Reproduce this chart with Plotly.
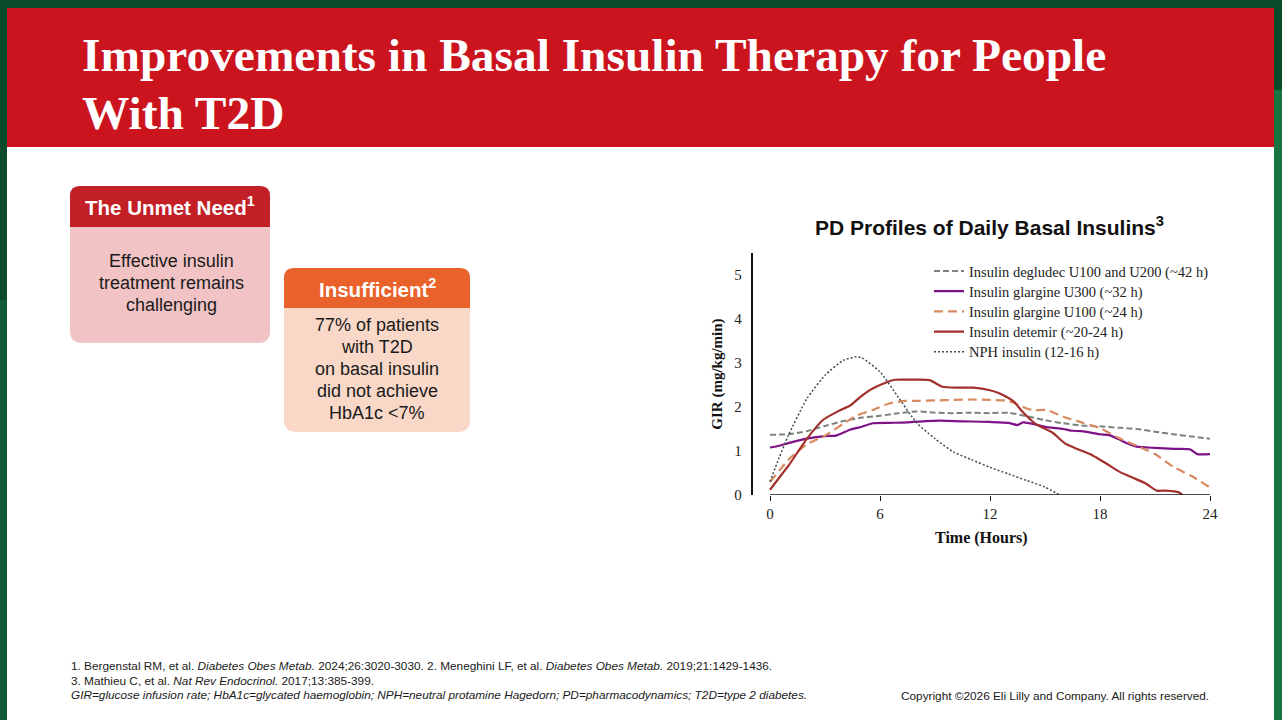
import plotly.graph_objects as go

W, H = 1282, 720

# ---------------- data ----------------
deg_t = [0, 1, 2, 3, 4, 5, 6, 7, 8, 9, 10, 11, 12, 13, 14, 15, 16, 17, 18, 19, 20, 21, 22, 23, 24]
deg_v = [1.37, 1.38, 1.45, 1.57, 1.68, 1.76, 1.80, 1.86, 1.90, 1.87, 1.86, 1.87, 1.86, 1.87, 1.79,
         1.70, 1.63, 1.58, 1.56, 1.53, 1.50, 1.44, 1.38, 1.33, 1.28]

u300_t = [0, 0.5, 1, 2, 3, 3.6, 4.4, 5, 5.6, 6.5, 7.5, 8.5, 9.3, 10, 11, 12, 13, 13.5, 13.8, 14.5,
          15, 16, 16.5, 17, 18, 18.5, 19, 19.5, 20, 21, 22, 22.9, 23.3, 24]
u300_v = [1.08, 1.12, 1.18, 1.28, 1.34, 1.35, 1.49, 1.55, 1.63, 1.64, 1.65, 1.68, 1.69, 1.68, 1.67,
          1.66, 1.64, 1.59, 1.65, 1.60, 1.55, 1.50, 1.46, 1.45, 1.38, 1.36, 1.27, 1.17, 1.10, 1.07,
          1.05, 1.04, 0.93, 0.93]

u100_t = [0, 0.5, 1, 2, 3, 4, 4.7, 5.6, 6.5, 7.4, 8, 9, 10, 11, 12, 13, 13.8, 14.3, 15.1, 16, 17,
          18, 19, 20, 21, 22, 23, 24]
u100_v = [0.30, 0.55, 0.80, 1.15, 1.35, 1.62, 1.80, 1.93, 2.08, 2.14, 2.14, 2.15, 2.16, 2.17, 2.16,
          2.14, 2.00, 1.93, 1.93, 1.78, 1.65, 1.52, 1.30, 1.12, 0.93, 0.64, 0.43, 0.17]

det_t = [0, 0.7, 1, 2, 2.9, 3.8, 4.4, 4.9, 5.6, 6.4, 6.8, 7.8, 8.7, 9.4, 10.2, 11.1, 12, 12.5, 13.3,
         13.8, 14.5, 15.4, 16.1, 16.8, 17.6, 18.4, 19.1, 19.8, 20.5, 21.1, 21.6, 22.3, 22.5]
det_v = [0.12, 0.50, 0.66, 1.27, 1.71, 1.92, 2.04, 2.22, 2.42, 2.57, 2.62, 2.62, 2.61, 2.46, 2.44,
         2.44, 2.38, 2.31, 2.12, 1.88, 1.61, 1.42, 1.17, 1.04, 0.90, 0.70, 0.52, 0.39, 0.26, 0.10,
         0.10, 0.06, 0.0]

nph_t = [0, 0.5, 1, 2, 3, 4, 4.7, 5, 6, 7, 8, 9, 10, 11, 12, 13, 14, 15, 15.8]
nph_v = [0.30, 0.85, 1.35, 2.18, 2.72, 3.06, 3.14, 3.12, 2.80, 2.22, 1.64, 1.28, 0.98, 0.80, 0.63,
         0.48, 0.33, 0.18, 0.0]

series_names = ["Insulin degludec U100 and U200 (~42 h)",
                "Insulin glargine U300 (~32 h)",
                "Insulin glargine U100 (~24 h)",
                "Insulin detemir (~20-24 h)",
                "NPH insulin (12-16 h)"]

x_ticks = [0, 6, 12, 18, 24]
y_ticks = [0, 1, 2, 3, 4, 5]

# ---------------- helpers ----------------
def px(x):
    return x / W

def py(y):
    return 1 - y / H

def rrect(x0, y0, x1, y1, rt, rb):
    """rounded rectangle path in paper coords; rt = top radius, rb = bottom radius (pixels)"""
    pts = [
        ("M", [(x0 + rt, y0)]),
        ("L", [(x1 - rt, y0)]),
        ("Q", [(x1, y0), (x1, y0 + rt)]),
        ("L", [(x1, y1 - rb)]),
        ("Q", [(x1, y1), (x1 - rb, y1)]),
        ("L", [(x0 + rb, y1)]),
        ("Q", [(x0, y1), (x0, y1 - rb)]),
        ("L", [(x0, y0 + rt)]),
        ("Q", [(x0, y0), (x0 + rt, y0)]),
    ]
    s = ""
    for cmd, ps in pts:
        s += cmd + " " + " ".join(f"{px(a):.6f},{py(b):.6f}" for a, b in ps) + " "
    return s + "Z"

SERIF = "Liberation Serif"
SANS = "Liberation Sans"

fig = go.Figure()

styles = [
    dict(color="#7b8478", width=2, dash="6px,3px"),
    dict(color="#7e1287", width=2.2, dash="solid"),
    dict(color="#d88a60", width=2.2, dash="9px,5px"),
    dict(color="#a3302c", width=2.2, dash="solid"),
    dict(color="#3f4b57", width=1.5, dash="2px,2px"),
]
data = [(deg_t, deg_v), (u300_t, u300_v), (u100_t, u100_v), (det_t, det_v), (nph_t, nph_v)]
legend_ids = ["legend", "legend2", "legend3", "legend4", "legend5"]

for (t, v), name, st, lg in zip(data, series_names, styles, legend_ids):
    fig.add_trace(go.Scatter(
        x=t, y=v, mode="lines", name=name, legend=lg,
        line=dict(color=st["color"], width=st["width"], dash=st["dash"],
                  shape="spline", smoothing=0.6),
        hoverinfo="skip",
    ))

# axis geometry (pixels)
AX_L, AX_R = 752.6, 1210.0
AX_B, AX_T = 495.0, 253.0

shapes = []
# green frame accents
shapes.append(dict(type="rect", xref="paper", yref="paper", x0=px(1274), x1=1, y0=py(720), y1=py(90),
                   fillcolor="#17733f", line=dict(width=0), layer="below"))
shapes.append(dict(type="rect", xref="paper", yref="paper", x0=0, x1=px(7), y0=py(720), y1=py(300),
                   fillcolor="#115c34", line=dict(width=0), layer="below"))
# slide
shapes.append(dict(type="rect", xref="paper", yref="paper", x0=px(7), x1=px(1274), y0=py(720), y1=py(8),
                   fillcolor="#ffffff", line=dict(width=0), layer="below"))
# red header
shapes.append(dict(type="rect", xref="paper", yref="paper", x0=px(7), x1=px(1274), y0=py(147), y1=py(8),
                   fillcolor="#cb141e", line=dict(width=0), layer="below"))
# box 1
shapes.append(dict(type="path", xref="paper", yref="paper", path=rrect(70, 186, 270, 343, 10, 12),
                   fillcolor="#f1c3c5", line=dict(width=0), layer="below"))
shapes.append(dict(type="path", xref="paper", yref="paper", path=rrect(70, 186, 270, 227, 10, 0.01),
                   fillcolor="#c21f27", line=dict(width=0), layer="below"))
# box 2
shapes.append(dict(type="path", xref="paper", yref="paper", path=rrect(284, 268, 470, 432, 10, 12),
                   fillcolor="#f9d8c8", line=dict(width=0), layer="below"))
shapes.append(dict(type="path", xref="paper", yref="paper", path=rrect(284, 268, 470, 308, 10, 0.01),
                   fillcolor="#e9622b", line=dict(width=0), layer="below"))
# x axis line (from 0 to 24 h)
shapes.append(dict(type="line", xref="x", yref="y", x0=x_ticks[0], x1=x_ticks[-1], y0=0, y1=0,
                   line=dict(color="#111111", width=1.5), layer="above"))

ann = []
# title
ann.append(dict(text="<b>Improvements in Basal Insulin Therapy for People</b>", x=px(80), y=py(55),
                xref="paper", yref="paper", xanchor="left", yanchor="middle", showarrow=False,
                font=dict(family=SERIF, size=47.4, color="#ffffff")))
ann.append(dict(text="<b>With T2D</b>", x=px(80), y=py(113),
                xref="paper", yref="paper", xanchor="left", yanchor="middle", showarrow=False,
                font=dict(family=SERIF, size=47.4, color="#ffffff")))
# box 1 texts
ann.append(dict(text="<b>The Unmet Need<sup>1</sup></b>", x=px(170), y=py(206), xref="paper", yref="paper",
                xanchor="center", yanchor="middle", showarrow=False,
                font=dict(family=SANS, size=20.5, color="#ffffff")))
for i, line in enumerate(["Effective insulin", "treatment remains", "challenging"]):
    ann.append(dict(text=line, x=px(171), y=py(261 + 22 * i), xref="paper", yref="paper",
                    xanchor="center", yanchor="middle", showarrow=False,
                    font=dict(family=SANS, size=18, color="#1a1a1a")))
# box 2 texts
ann.append(dict(text="<b>Insufficient<sup>2</sup></b>", x=px(377), y=py(288), xref="paper", yref="paper",
                xanchor="center", yanchor="middle", showarrow=False,
                font=dict(family=SANS, size=20.5, color="#ffffff")))
for i, line in enumerate(["77% of patients", "with T2D", "on basal insulin", "did not achieve", "HbA1c <7%"]):
    ann.append(dict(text=line.replace("<", "&lt;"), x=px(377), y=py(325 + 22 * i), xref="paper", yref="paper",
                    xanchor="center", yanchor="middle", showarrow=False,
                    font=dict(family=SANS, size=18, color="#1a1a1a")))
# chart title
ann.append(dict(text="<b>PD Profiles of Daily Basal Insulins<sup>3</sup></b>", x=px(990), y=py(226),
                xref="paper", yref="paper", xanchor="center", yanchor="middle", showarrow=False,
                font=dict(family=SANS, size=21, color="#111111")))
# footnotes
foot = [
    "1. Bergenstal RM, et al. <i>Diabetes Obes Metab.</i> 2024;26:3020-3030. 2. Meneghini LF, et al. "
    "<i>Diabetes Obes Metab.</i> 2019;21:1429-1436.",
    "3. Mathieu C, et al. <i>Nat Rev Endocrinol.</i> 2017;13:385-399.",
    "<i>GIR=glucose infusion rate; HbA1c=glycated haemoglobin; NPH=neutral protamine Hagedorn; "
    "PD=pharmacodynamics; T2D=type 2 diabetes.</i>",
]
for i, line in enumerate(foot):
    ann.append(dict(text=line, x=px(69), y=py(666 + 14.5 * i), xref="paper", yref="paper",
                    xanchor="left", yanchor="middle", showarrow=False,
                    font=dict(family=SANS, size=11.8, color="#1a1a1a")))
ann.append(dict(text="Copyright ©2026 Eli Lilly and Company. All rights reserved.", x=px(1211), y=py(696),
                xref="paper", yref="paper", xanchor="right", yanchor="middle", showarrow=False,
                font=dict(family=SANS, size=11.8, color="#1a1a1a")))

hours_per_px = (x_ticks[-1] - x_ticks[0]) / (AX_R - 770.0)
x_min = x_ticks[0] - (770.0 - AX_L) * hours_per_px

# one legend box per row so row spacing can match the reference
legend_layout = {}
for i, lg in enumerate(legend_ids):
    legend_layout[lg] = dict(
        x=px(929), y=py(255 + 20.2 * i), xanchor="left", yanchor="top",
        bgcolor="rgba(0,0,0,0)", borderwidth=0,
        font=dict(family=SERIF, size=14.5, color="#222222"),
        tracegroupgap=0, itemwidth=30,
    )

fig.update_layout(
    width=W, height=H,
    margin=dict(l=0, r=0, t=0, b=0, pad=0, autoexpand=False),
    paper_bgcolor="#0b4a2b",
    plot_bgcolor="rgba(0,0,0,0)",
    shapes=shapes,
    annotations=ann,
    showlegend=True,
    xaxis=dict(
        domain=[px(AX_L), px(AX_R)], range=[x_min, x_ticks[-1]], automargin=False,
        tickvals=x_ticks, ticktext=[str(v) for v in x_ticks],
        ticks="outside", ticklen=5, tickwidth=1.2, tickcolor="#111111",
        showline=False, showgrid=False, zeroline=False,
        tickfont=dict(family=SERIF, size=15, color="#222222"),
        title=dict(text="<b>Time (Hours)</b>", font=dict(family=SERIF, size=16, color="#111111"), standoff=10),
    ),
    yaxis=dict(
        domain=[py(AX_B), py(AX_T)], range=[0, 5.5], automargin=False,
        tickvals=y_ticks, ticktext=[str(v) for v in y_ticks],
        ticks="", showline=True, linecolor="#111111", linewidth=1.5,
        showgrid=False, zeroline=False, ticklabelstandoff=6,
        tickfont=dict(family=SERIF, size=15, color="#222222"),
        title=dict(text="<b>GIR (mg/kg/min)</b>", font=dict(family=SERIF, size=15, color="#111111"), standoff=8),
    ),
    **legend_layout,
)

post = (
    "var d=document.getElementById('{plot_id}');"
    "document.documentElement.style.margin='0';document.documentElement.style.padding='0';"
    "document.documentElement.style.overflow='hidden';"
    "document.body.style.margin='0';document.body.style.padding='0';document.body.style.overflow='hidden';"
    "d.style.position='fixed';d.style.left='0px';d.style.top='0px';"
)

fig.write_html("out.html", config={"displayModeBar": False}, post_script=post)
